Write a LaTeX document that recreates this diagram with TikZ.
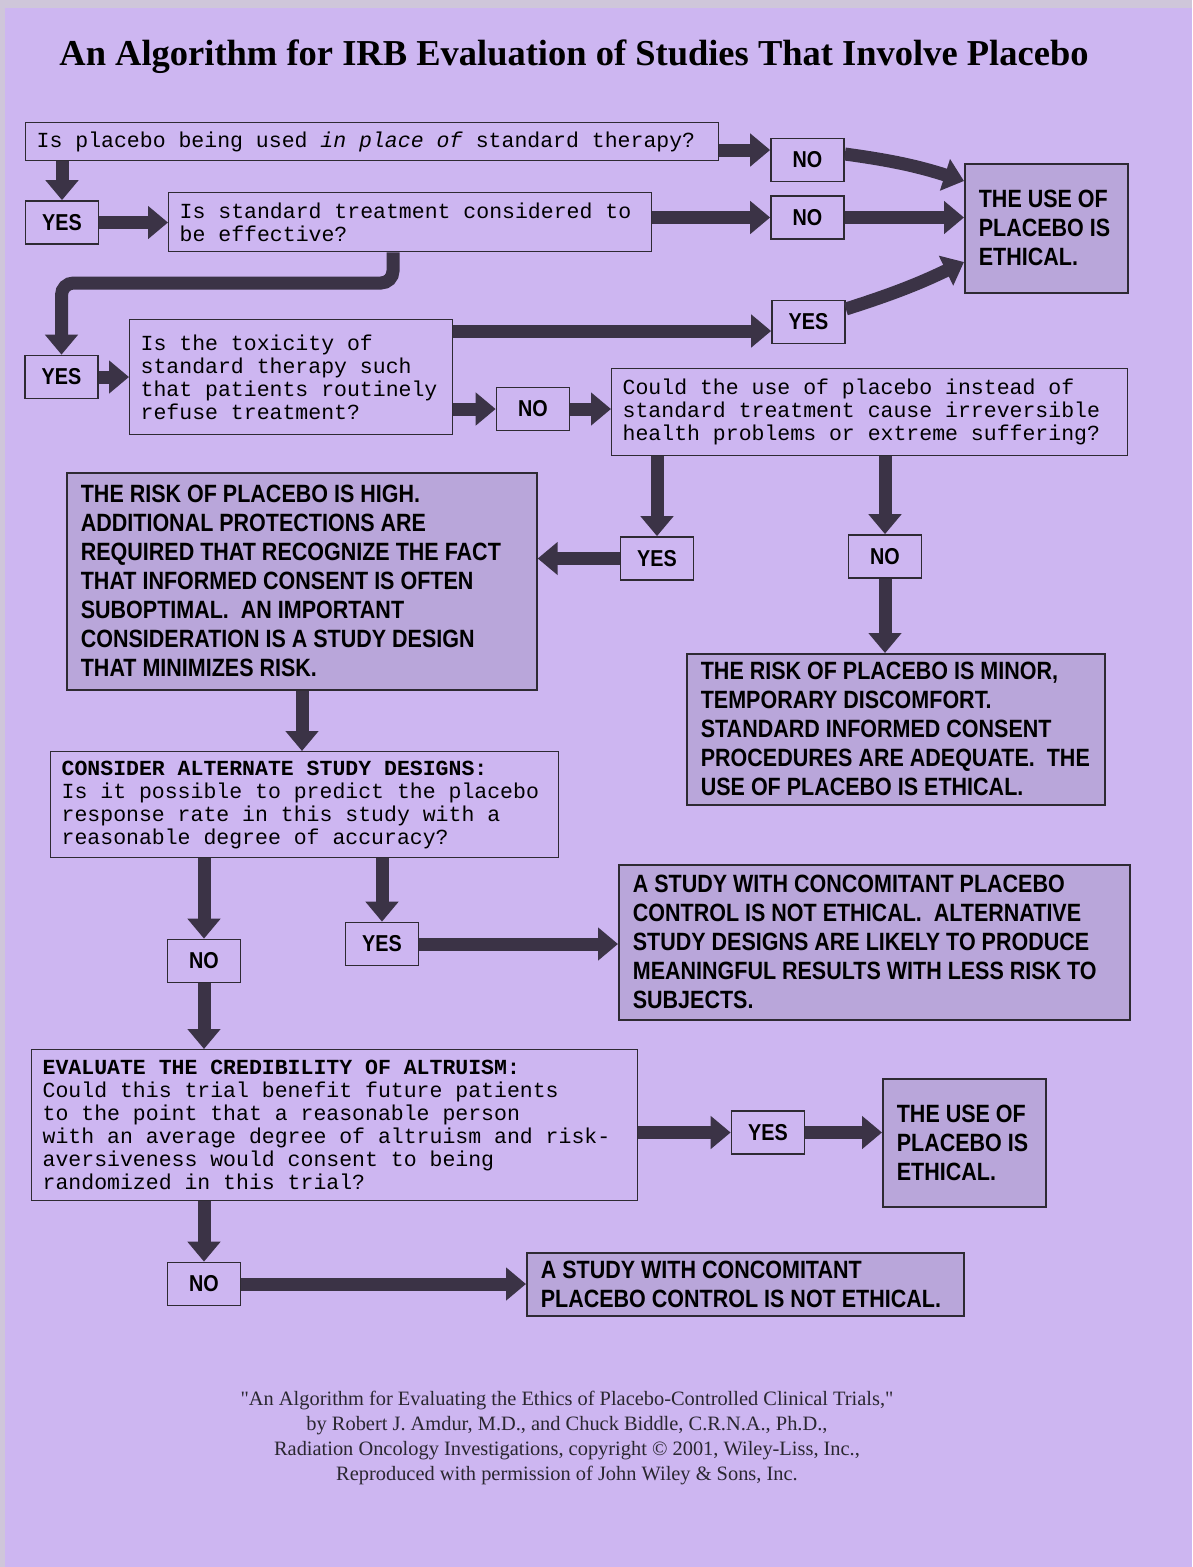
\documentclass[tikz,border=0pt]{standalone}
\usepackage{fontspec}
\setmainfont{Liberation Serif}
\newfontfamily\qfont{Liberation Mono}
\newfontfamily\capsfont[FakeStretch=0.86]{Liberation Sans}
\newfontfamily\notefont[Ligatures=TeXOff]{Liberation Serif}
\usetikzlibrary{arrows.meta,positioning}
\definecolor{lavender}{HTML}{CDB6F1}
\definecolor{resfill}{HTML}{B9A6DA}
\definecolor{edgegray}{HTML}{CFC6DA}
\definecolor{arrowdark}{HTML}{3B3346}
\definecolor{framedark}{HTML}{2E2A33}
\definecolor{notegray}{HTML}{2A2730}
\tikzset{
  qbox/.style={draw=framedark, line width=1.3pt, anchor=north west, inner xsep=11pt, inner ysep=0pt,
    align=flush left, font=\qfont\fontsize{21.5}{23}\selectfont},
  resbox/.style={draw=framedark, fill=resfill, line width=1.7pt, anchor=north west, inner xsep=14pt,
    inner ysep=0pt, align=flush left, font=\capsfont\bfseries\fontsize{25}{29}\selectfont},
  ansbox/.style={draw=framedark, line width=1.7pt, minimum width=73pt, minimum height=43pt, inner sep=0pt,
    font=\capsfont\bfseries\fontsize{23}{25}\selectfont},
  fat/.style={draw=arrowdark, line width=13pt, -{Triangle[width=32pt,length=20pt]}},
}
\begin{document}
\begin{tikzpicture}[x=1pt,y=-1pt,line join=miter]
  \useasboundingbox (0,0) rectangle (1192,1567);
  \fill[edgegray] (0,0) rectangle (1192,1567);
  \fill[lavender] (5,8) rectangle (1192,1567);

  \node[anchor=base, font=\bfseries\fontsize{36.5}{40}\selectfont] (title) at (574,65)
    {An Algorithm for IRB Evaluation of Studies That Involve Placebo};

  % questions, answers and outcomes
  \node[qbox, text width=671pt, minimum height=38pt] (q1) at (25,122)
    {Is placebo being used \textit{in place of} standard therapy?};
  \node[ansbox] (no1) at (807.5,160) {NO};
  \node[ansbox] (yes1) at (62,222.5) {YES};
  \node[qbox, text width=461pt, minimum height=59pt] (q2) at (168,192)
    {Is standard treatment considered to\\be effective?};
  \node[ansbox] (no2) at (807.5,217.5) {NO};
  \node[resbox, text width=135pt, minimum height=129pt] (eth1) at (964,163)
    {THE USE OF\\PLACEBO IS\\ETHICAL.};
  \node[ansbox] (yes2) at (61.5,377) {YES};
  \node[qbox, text width=301pt, minimum height=115pt] (q3) at (129,319)
    {Is the toxicity of\\standard therapy such\\that patients routinely\\refuse treatment?};
  \node[ansbox] (yes3) at (808.5,322) {YES};
  \node[ansbox] (no3) at (533,409) {NO};
  \node[qbox, text width=494pt, minimum height=87pt] (q4) at (611,368)
    {Could the use of placebo instead of\\standard treatment cause irreversible\\health problems or extreme suffering?};
  \node[ansbox] (yes4) at (657,558.5) {YES};
  \node[ansbox] (no4) at (885,556.5) {NO};
  \node[resbox, text width=442pt, minimum height=217pt] (high) at (66,472)
    {THE RISK OF PLACEBO IS HIGH.\\ADDITIONAL PROTECTIONS ARE\\REQUIRED THAT RECOGNIZE THE FACT\\
     THAT INFORMED CONSENT IS OFTEN\\SUBOPTIMAL.\ \ AN IMPORTANT\\CONSIDERATION IS A STUDY DESIGN\\
     THAT MINIMIZES RISK.};
  \node[resbox, text width=390pt, minimum height=151pt] (minor) at (686,653)
    {THE RISK OF PLACEBO IS MINOR,\\TEMPORARY DISCOMFORT.\\STANDARD INFORMED CONSENT\\
     PROCEDURES ARE ADEQUATE.\ \ THE\\USE OF PLACEBO IS ETHICAL.};
  \node[qbox, text width=486pt, minimum height=106pt] (q5) at (50,751)
    {{\bfseries CONSIDER ALTERNATE STUDY DESIGNS:}\\Is it possible to predict the placebo\\
     response rate in this study with a\\reasonable degree of accuracy?};
  \node[ansbox] (no5) at (204,961) {NO};
  \node[ansbox] (yes5) at (382,944) {YES};
  \node[resbox, text width=483pt, minimum height=155pt] (stop1) at (618,864)
    {A STUDY WITH CONCOMITANT PLACEBO\\CONTROL IS NOT ETHICAL.\ \ ALTERNATIVE\\
     STUDY DESIGNS ARE LIKELY TO PRODUCE\\MEANINGFUL RESULTS WITH LESS RISK TO\\SUBJECTS.};
  \node[qbox, text width=584pt, minimum height=151pt] (q6) at (31,1049)
    {{\bfseries EVALUATE THE CREDIBILITY OF ALTRUISM:}\\Could this trial benefit future patients\\
     to the point that a reasonable person\\with an average degree of altruism and risk-\\
     aversiveness would consent to being\\randomized in this trial?};
  \node[ansbox] (yes6) at (768,1132.5) {YES};
  \node[resbox, text width=135pt, minimum height=128pt] (eth2) at (882,1078)
    {THE USE OF\\PLACEBO IS\\ETHICAL.};
  \node[ansbox] (no6) at (204,1284) {NO};
  \node[resbox, text width=409pt, minimum height=63pt] (stop2) at (526,1252)
    {A STUDY WITH CONCOMITANT\\PLACEBO CONTROL IS NOT ETHICAL.};

  % arrows
  \draw[fat] (q1.east |- 0,150) -- (no1.west |- 0,150);
  \draw[fat] (yes1.north |- q1.south) -- (yes1.north);
  \draw[fat] (yes1.east) -- (q2.west |- yes1.east);
  \draw[fat] (q2.east |- no2.west) -- (no2.west);
  \draw[fat] (no1.east |- 0,154) to[bend left=5] (eth1.west |- 0,181);
  \draw[fat] (no2.east) -- (eth1.west |- no2.east);
  \draw[fat, rounded corners=12pt] (q2.south -| 393,0) |- (61.5,283) -- (yes2.north);
  \draw[fat] (yes2.east) -- (q3.west |- yes2.east);
  \draw[fat] (q3.east |- 0,331) -- (yes3.west |- 0,331);
  \draw[fat] (yes3.east |- 0,309) to[bend right=4] (eth1.west |- 0,262);
  \draw[fat] (q3.east |- no3.west) -- (no3.west);
  \draw[fat] (no3.east) -- (q4.west |- no3.east);
  \draw[fat] (yes4.north |- q4.south) -- (yes4.north);
  \draw[fat] (no4.north |- q4.south) -- (no4.north);
  \draw[fat] (yes4.west) -- (high.east |- yes4.west);
  \draw[fat] (no4.south) -- (minor.north -| no4.south);
  \draw[fat] (high.south -| 302,0) -- (q5.north -| 302,0);
  \draw[fat] (no5.north |- q5.south) -- (no5.north);
  \draw[fat] (yes5.north |- q5.south) -- (yes5.north);
  \draw[fat] (yes5.east) -- (stop1.west |- yes5.east);
  \draw[fat] (no5.south) -- (q6.north -| no5.south);
  \draw[fat] (q6.east |- yes6.west) -- (yes6.west);
  \draw[fat] (yes6.east) -- (eth2.west |- yes6.east);
  \draw[fat] (no6.north |- q6.south) -- (no6.north);
  \draw[fat] (no6.east) -- (stop2.west |- no6.east);

  \node[align=center, text=notegray, font=\notefont\fontsize{20.4}{25}\selectfont] (source) at (567,1438)
    {"An Algorithm for Evaluating the Ethics of Placebo-Controlled Clinical Trials,"\\
     by Robert J. Amdur, M.D., and Chuck Biddle, C.R.N.A., Ph.D.,\\
     Radiation Oncology Investigations, copyright \textcopyright\ 2001, Wiley-Liss, Inc.,\\
     Reproduced with permission of John Wiley \& Sons, Inc.};
\end{tikzpicture}
\end{document}
